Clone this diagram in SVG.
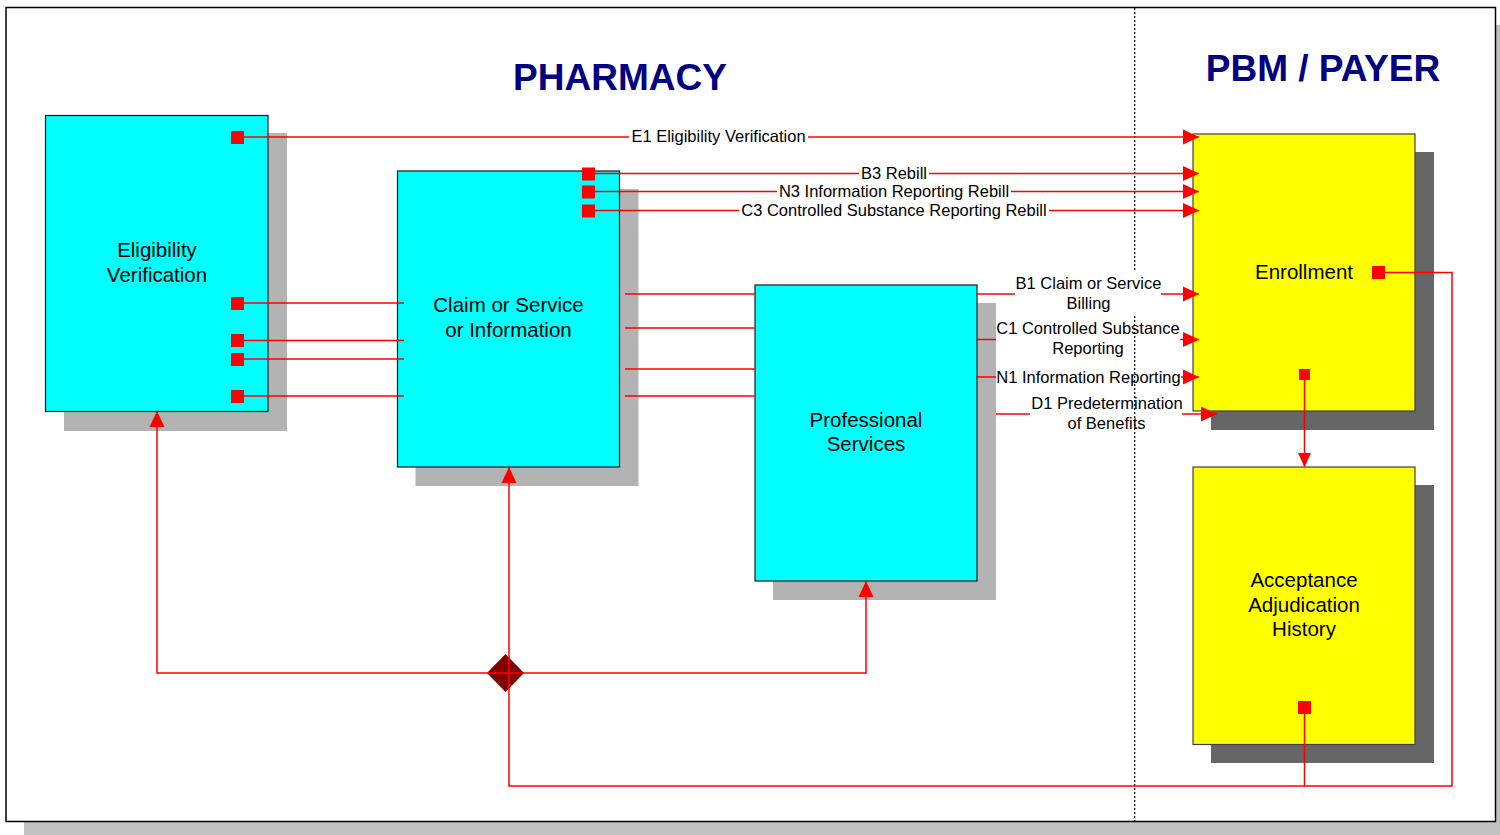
<svg xmlns="http://www.w3.org/2000/svg" width="1500" height="835" viewBox="0 0 1500 835">
<defs>
<marker id="arr" viewBox="0 0 16 16" refX="16" refY="8" markerWidth="16" markerHeight="16" markerUnits="userSpaceOnUse" orient="auto">
<path d="M0,0.5 L16,8 L0,15.5 Z" fill="#ff0000"/>
</marker>
<marker id="arrs" viewBox="0 0 14 14" refX="14" refY="7" markerWidth="14" markerHeight="14" markerUnits="userSpaceOnUse" orient="auto">
<path d="M0,0.5 L14,7 L0,13.5 Z" fill="#ff0000"/>
</marker>
</defs>
<style>
.title{font-family:"Liberation Sans",Arial,sans-serif;font-weight:bold;font-size:37px;fill:#000080;text-anchor:middle}
.nl{font-family:"Liberation Sans",Arial,sans-serif;font-size:20.5px;fill:#000;text-anchor:middle}
.el{font-family:"Liberation Sans",Arial,sans-serif;font-size:16.5px;fill:#000;text-anchor:middle}
.cy{fill:#00ffff;stroke:#1a1a1a;stroke-width:1.2}
.ye{fill:#ffff00;stroke:#404040;stroke-width:1.2}
.sh1{fill:#b3b3b3}
.sh2{fill:#666666}
.sq{fill:#ff0000}
.ln{fill:none;stroke:#ff0000;stroke-width:1.5}
</style>
<rect x="0" y="0" width="1500" height="835" fill="#ffffff"/>
<g id="frame">
<rect x="24" y="25" width="1490" height="814" fill="#c0c0c0"/>
<rect x="6" y="7.5" width="1489.5" height="814" fill="#ffffff" stroke="#000" stroke-width="1.5"/>
<line x1="1134.7" y1="8" x2="1134.7" y2="821" stroke="#000" stroke-width="1.2" stroke-dasharray="2,2"/>
<text class="title" x="620" y="90">PHARMACY</text>
<text class="title" x="1323" y="81">PBM / PAYER</text>
</g>
<g id="n-elig">
<rect class="sh1" x="64" y="133" width="223" height="298"/>
<rect class="cy" x="45.5" y="115.5" width="222.5" height="296"/>
<text class="nl" x="157" y="257">Eligibility</text>
<text class="nl" x="157" y="282">Verification</text>
</g>
<g id="n-claim">
<rect class="sh1" x="415.5" y="189" width="223" height="297"/>
<rect class="cy" x="397.5" y="171" width="222" height="296"/>
<text class="nl" x="508.5" y="312">Claim or Service</text>
<text class="nl" x="508.5" y="337">or Information</text>
</g>
<g id="n-prof">
<rect class="sh1" x="773" y="303" width="223" height="297"/>
<rect class="cy" x="755" y="285" width="222" height="296"/>
<text class="nl" x="866" y="427">Professional</text>
<text class="nl" x="866" y="451">Services</text>
</g>
<g id="n-enroll">
<rect class="sh2" x="1211" y="152" width="223" height="278"/>
<rect class="ye" x="1193" y="134" width="222" height="277"/>
<text class="nl" x="1304" y="279">Enrollment</text>
</g>
<g id="n-accept">
<rect class="sh2" x="1211" y="485" width="223" height="278"/>
<rect class="ye" x="1193" y="467" width="222" height="277.5"/>
<text class="nl" x="1304" y="587">Acceptance</text>
<text class="nl" x="1304" y="612">Adjudication</text>
<text class="nl" x="1304" y="636">History</text>
</g>
<g id="connectors">
<polygon points="505.5,654 524,673 505.5,692 487,673" fill="#800000"/>
<path class="ln" d="M244,137 H629"/>
<path class="ln" d="M808,137 H1199" marker-end="url(#arr)"/>
<path class="ln" d="M594,173.5 H859"/>
<path class="ln" d="M929,173.5 H1199" marker-end="url(#arr)"/>
<path class="ln" d="M594,191.5 H777"/>
<path class="ln" d="M1011,191.5 H1199" marker-end="url(#arr)"/>
<path class="ln" d="M594,210.5 H739"/>
<path class="ln" d="M1049,210.5 H1199" marker-end="url(#arr)"/>
<path class="ln" d="M244,303 H404 M244,340.5 H404 M244,359 H404 M244,396 H404"/>
<path class="ln" d="M625,294 H755 M625,328 H755 M625,369 H755 M625,396 H755"/>
<path class="ln" d="M977,294 H1015"/>
<path class="ln" d="M1161,294 H1199" marker-end="url(#arr)"/>
<path class="ln" d="M977,339.5 H996"/>
<path class="ln" d="M1180,339.5 H1199" marker-end="url(#arr)"/>
<path class="ln" d="M977,377 H996"/>
<path class="ln" d="M1181,377 H1199" marker-end="url(#arr)"/>
<path class="ln" d="M996,414 H1030"/>
<path class="ln" d="M1182,414 H1217" marker-end="url(#arr)"/>
<path class="ln" d="M1385,272.5 H1452 V786 H509 V467" marker-end="url(#arr)"/>
<path class="ln" d="M1304.5,380 V467" marker-end="url(#arrs)"/>
<path class="ln" d="M1304.5,714 V786"/>
<path class="ln" d="M505,673 H157 V411" marker-end="url(#arr)"/>
<path class="ln" d="M505,673 H866 V581" marker-end="url(#arr)"/>
<rect class="sq" x="231" y="131" width="13" height="13"/>
<rect class="sq" x="231" y="297" width="13" height="13"/>
<rect class="sq" x="231" y="334" width="13" height="13"/>
<rect class="sq" x="231" y="353" width="13" height="13"/>
<rect class="sq" x="231" y="390" width="13" height="13"/>
<rect class="sq" x="582" y="167.5" width="13" height="13"/>
<rect class="sq" x="582" y="185.5" width="13" height="13"/>
<rect class="sq" x="582" y="204.5" width="13" height="13"/>
<rect class="sq" x="1372" y="266" width="13" height="13"/>
<rect class="sq" x="1299" y="369" width="11" height="11"/>
<rect class="sq" x="1298" y="701" width="13" height="13"/>
<text class="el" x="718.5" y="142">E1 Eligibility Verification</text>
<text class="el" x="894" y="179">B3 Rebill</text>
<text class="el" x="894" y="197">N3 Information Reporting Rebill</text>
<text class="el" x="894" y="216">C3 Controlled Substance Reporting Rebill</text>
<rect x="1016" y="272" width="144" height="42" fill="#ffffff"/>
<text class="el" x="1088.5" y="289">B1 Claim or Service</text>
<text class="el" x="1088.5" y="309">Billing</text>
<text class="el" x="1088" y="334">C1 Controlled Substance</text>
<text class="el" x="1088" y="354">Reporting</text>
<text class="el" x="1088.5" y="383">N1 Information Reporting</text>
<text class="el" x="1107" y="409">D1 Predetermination</text>
<text class="el" x="1106.5" y="429">of Benefits</text>
</g>
</svg>
